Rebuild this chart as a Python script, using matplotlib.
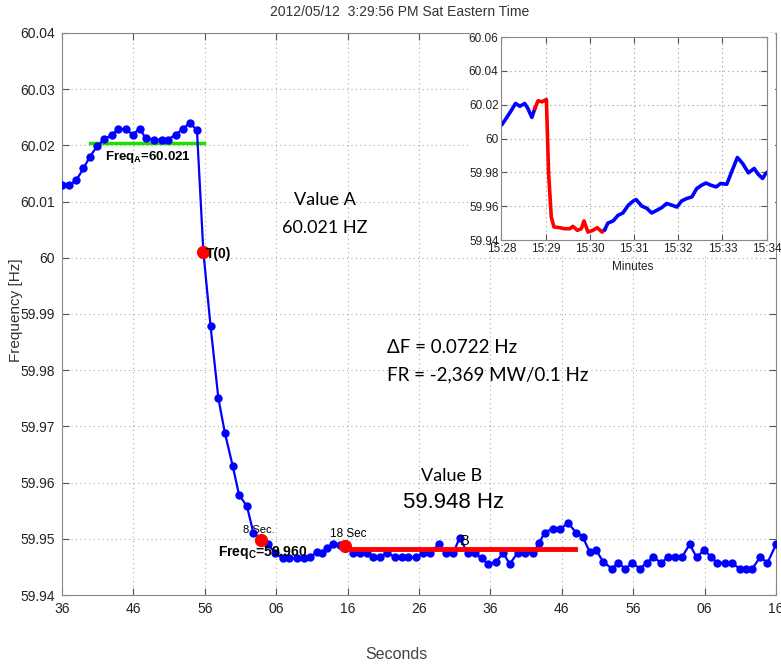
import matplotlib
matplotlib.use("Agg")
import matplotlib.pyplot as plt
from matplotlib import font_manager
from matplotlib.patches import Rectangle

# frequency trace, seconds from 15:29:36
sec = [0, 1.0, 2.0, 3.0, 3.9, 4.9, 5.9, 7.0, 7.9, 8.9, 9.9, 10.9, 11.7, 12.9, 14.0, 14.8,
       15.9, 16.9, 17.9, 18.9, 19.8, 20.8, 21.9, 22.8, 23.9, 24.8, 25.9, 26.8, 27.8, 28.9,
       29.8, 30.9, 31.8, 32.9, 33.9, 34.7, 35.7, 36.4, 37.1, 38.0, 38.9, 39.7, 40.8, 41.7,
       42.7, 43.6, 44.5, 45.5, 46.6, 47.6, 48.5, 49.6, 50.6, 51.5, 52.8, 53.8, 54.8, 55.7,
       56.8, 57.8, 58.8, 59.7, 60.8, 61.8, 62.7, 63.8, 64.8, 66.0, 66.8, 67.6, 68.7, 69.8,
       70.9, 72.0, 72.9, 73.9, 74.8, 75.8, 77.0, 77.9, 78.9, 79.9, 80.9, 81.9, 82.8, 83.9,
       84.9, 85.9, 86.8, 87.9, 88.9, 89.9, 90.9, 91.8, 92.9, 93.8, 94.9, 95.8, 96.7, 97.8,
       98.8, 100.0]
freq = [60.0129, 60.0129, 60.0138, 60.0159, 60.0180, 60.0198, 60.0211, 60.0219, 60.0229,
        60.0229, 60.0219, 60.0230, 60.0213, 60.0210, 60.0210, 60.0210, 60.0219, 60.0229,
        60.0240, 60.0227, 60.0010, 59.9879, 59.9750, 59.9689, 59.9630, 59.9578, 59.9558,
        59.9511, 59.9498, 59.9490, 59.9475, 59.9465, 59.9466, 59.9465, 59.9465, 59.9467,
        59.9477, 59.9475, 59.9483, 59.9490, 59.9489, 59.9487, 59.9475, 59.9475, 59.9475,
        59.9468, 59.9468, 59.9475, 59.9468, 59.9467, 59.9467, 59.9467, 59.9475, 59.9475,
        59.9490, 59.9475, 59.9475, 59.9502, 59.9475, 59.9475, 59.9465, 59.9455, 59.9459,
        59.9475, 59.9455, 59.9475, 59.9475, 59.9475, 59.9492, 59.9511, 59.9518, 59.9518,
        59.9528, 59.9511, 59.9504, 59.9477, 59.9480, 59.9459, 59.9447, 59.9457, 59.9447,
        59.9457, 59.9447, 59.9457, 59.9468, 59.9457, 59.9468, 59.9468, 59.9467, 59.9490,
        59.9467, 59.9480, 59.9468, 59.9457, 59.9457, 59.9457, 59.9447, 59.9447, 59.9447,
        59.9468, 59.9457, 59.9490]

# red event points: T(0), 8 sec, 18 sec
mark_sec = [19.8, 27.8, 39.7]
mark_freq = [60.0010, 59.9498, 59.9487]

# averaging lines
freqA_sec = [3.9, 19.9]
freqA_val = 60.0204
valB_sec = [39.7, 71.9]
valB_val = 59.9481

xtick_pos = [0, 10, 20, 30, 40, 50, 60, 70, 80, 90, 100]
xtick_lab = ["36", "46", "56", "06", "16", "26", "36", "46", "56", "06", "16"]
ytick_pos = [59.94, 59.95, 59.96, 59.97, 59.98, 59.99, 60.0, 60.01, 60.02, 60.03, 60.04]
ytick_lab = ["59.94", "59.95", "59.96", "59.97", "59.98", "59.99", "60", "60.01",
             "60.02", "60.03", "60.04"]

# inset, minutes after 15:28
ins_t1 = [0.02, 0.11, 0.23, 0.32, 0.42, 0.53, 0.60, 0.69, 0.76]
ins_f1 = [60.0085, 60.0119, 60.0168, 60.0207, 60.0191, 60.0207, 60.0178, 60.0125, 60.0178]
ins_t2 = [0.76, 0.83, 0.92, 1.02, 1.04, 1.07, 1.13, 1.19, 1.32, 1.43, 1.55, 1.62, 1.72,
          1.81, 1.87, 1.96, 2.07, 2.17, 2.28, 2.34]
ins_f2 = [60.0178, 60.0223, 60.0217, 60.0231, 60.0050, 59.9793, 59.9536, 59.9477, 59.9473,
          59.9467, 59.9467, 59.9481, 59.9457, 59.9467, 59.9513, 59.9447, 59.9457, 59.9473,
          59.9447, 59.9462]
ins_t3 = [2.34, 2.41, 2.53, 2.64, 2.75, 2.87, 2.98, 3.05, 3.18, 3.29, 3.40, 3.52, 3.63,
          3.74, 3.86, 3.97, 4.08, 4.19, 4.31, 4.42, 4.53, 4.63, 4.74, 4.86, 4.96, 5.10,
          5.21, 5.34, 5.46, 5.59, 5.72, 5.81, 5.91, 5.97, 6.0]
ins_f3 = [59.9462, 59.9500, 59.9513, 59.9546, 59.9560, 59.9605, 59.9630, 59.9639, 59.9600,
          59.9588, 59.9560, 59.9576, 59.9592, 59.9616, 59.9606, 59.9595, 59.9631, 59.9645,
          59.9655, 59.9704, 59.9724, 59.9737, 59.9724, 59.9714, 59.9734, 59.9730, 59.9803,
          59.9888, 59.9852, 59.9797, 59.9823, 59.9789, 59.9764, 59.9789, 59.9797]
ins_xlab = ["15:28", "15:29", "15:30", "15:31", "15:32", "15:33", "15:34"]
ins_ylab = ["59.94", "59.96", "59.98", "60", "60.02", "60.04", "60.06"]

names = {f.name for f in font_manager.fontManager.ttflist}
narrow = "Liberation Sans Narrow" if "Liberation Sans Narrow" in names else "Liberation Sans"
calib = ["Lato", "DejaVu Sans"]

plt.rcParams["font.family"] = [narrow, "DejaVu Sans"]
plt.rcParams["mathtext.fontset"] = "custom"
plt.rcParams["mathtext.rm"] = narrow
plt.rcParams["mathtext.bf"] = narrow + ":bold"

fig = plt.figure(figsize=(7.81, 6.66), dpi=100)
ax = fig.add_axes([0.0794, 0.1066, 0.9142, 0.8439])

ax.plot(freqA_sec, [freqA_val, freqA_val], color="#22dd00", lw=2.5, zorder=3)
ax.plot(valB_sec, [valB_val, valB_val], color="#ff0000", lw=3.5, zorder=4)
ax.plot(sec, freq, color="#0000ff", lw=1.6, marker="o", ms=5, zorder=3)
ax.plot(mark_sec, mark_freq, ls="none", marker="o", ms=8.5, color="#ff0000", zorder=5)

ax.set_xlim(0, 100)
ax.set_ylim(59.94, 60.04)
ax.set_xticks(xtick_pos, xtick_lab)
ax.set_yticks(ytick_pos, ytick_lab)
ax.tick_params(direction="in", top=True, right=True, length=5, labelsize=10,
               labelcolor="#222222", color="#555555", pad=5)
ax.grid(True, ls=(0, (1, 3)), color="#aaaaaa", lw=0.8)
for sp in ax.spines.values():
    sp.set_color("#888888")

ax.text(6.0, 60.0179, r"Freq$_\mathbf{A}$=60.021", fontsize=9.5, fontweight="bold",
        va="center", ha="left", zorder=6)
ax.text(20.2, 60.0007, "T(0)", fontsize=10, fontweight="bold", va="center", ha="left", zorder=6)
ax.text(21.8, 59.9475, r"Freq$_\mathbf{C}$=59.960", fontsize=10, fontweight="bold",
        va="center", ha="left", zorder=6)
ax.text(25.4, 59.9516, "8 Sec.", fontsize=8, va="center", ha="left", zorder=6)
ax.text(37.5, 59.9509, "18 Sec", fontsize=8.5, va="center", ha="left", zorder=6)
ax.text(56.4, 59.9496, "B", fontsize=10.5, va="center", ha="center", zorder=6)

ax.text(36.8, 60.0103, "Value A", family=calib, fontsize=13, va="center", ha="center")
ax.text(36.8, 60.0053, "60.021 HZ", family=calib, fontsize=13, va="center", ha="center")
ax.text(45.5, 59.9840, "\u0394F = 0.0722 Hz", family=calib, fontsize=13.5, va="center",
        ha="left")
ax.text(45.5, 59.9791, "FR = -2,369 MW/0.1 Hz", family=calib, fontsize=13.5, va="center",
        ha="left")
ax.text(54.6, 59.9612, "Value B", family=calib, fontsize=13, va="center", ha="center")
ax.text(54.9, 59.9564, "59.948 Hz", family="Liberation Sans", fontsize=16, va="center",
        ha="center")

fig.text(0.512, 0.982, "2012/05/12  3:29:56 PM Sat Eastern Time", fontsize=10,
         color="#333333", ha="center", va="center")
fig.text(0.021, 0.535, "Frequency [Hz]", fontsize=11, rotation=90, color="#333333",
         ha="center", va="center")
fig.text(0.508, 0.017, "Seconds", fontsize=11.5, color="#444444", ha="center", va="center")

# white backing behind the inset
fig.patches.append(Rectangle((0.602, 0.617), 0.39, 0.333, transform=fig.transFigure,
                             facecolor="white", edgecolor="none", zorder=1))

ins = fig.add_axes([0.6419, 0.6396, 0.3396, 0.3048], zorder=2)
ins.plot(ins_t1, ins_f1, color="#0000ff", lw=2.6)
ins.plot(ins_t2, ins_f2, color="#ff0000", lw=2.6)
ins.plot(ins_t3, ins_f3, color="#0000ff", lw=2.6)
ins.set_xlim(0, 6)
ins.set_ylim(59.94, 60.06)
ins.set_xticks(range(7), ins_xlab)
ins.set_yticks([59.94, 59.96, 59.98, 60.0, 60.02, 60.04, 60.06], ins_ylab)
ins.tick_params(direction="in", top=True, right=True, length=4, labelsize=8.5,
                labelcolor="#222222", color="#555555", pad=2)
ins.grid(True, ls=(0, (1, 3)), color="#999999", lw=0.8)
for sp in ins.spines.values():
    sp.set_color("#888888")
fig.text(0.8105, 0.599, "Minutes", fontsize=8.5, color="#222222", ha="center", va="center")

fig.savefig("out.png", dpi=100)
